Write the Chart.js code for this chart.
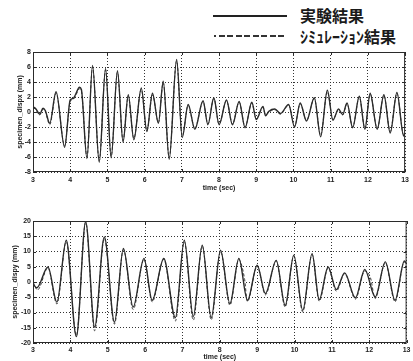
<!DOCTYPE html>
<html>
<head>
<meta charset="utf-8">
<script src="https://cdn.jsdelivr.net/npm/chart.js@4/dist/chart.umd.min.js"></script>
<style>
  body { margin: 0; background: #fff; width: 413px; height: 361px; overflow: hidden; position: relative; }
  canvas { position: absolute; left: 0; }
  .lg-line { position: absolute; height: 2px; }
  .lg-text { position: absolute; font-family: "Noto Sans CJK JP", sans-serif; font-weight: bold; font-size: 16px; line-height: 16px; color: #1a1a1a; white-space: nowrap; }
</style>
</head>
<body>
<div class="lg-line" style="left:213px;top:15px;width:74px;background:#222;"></div>
<div class="lg-text" style="left:300px;top:7px;">実験結果</div>
<div class="lg-line" style="left:214px;top:35px;width:2px;background:#333;"></div>
<div class="lg-line" style="left:219px;top:35px;width:68px;background:repeating-linear-gradient(to right,#333 0 6px,transparent 6px 8.5px);"></div>
<div class="lg-text" style="left:300px;top:28px;">ｼﾐｭﾚｰｼｮﾝ結果</div>

<canvas id="top" width="413" height="150" style="top:44px"></canvas>
<canvas id="bottom" width="413" height="149" style="top:212px"></canvas>

<script>
/* ---- data ---- */
var topTime = [3.00,3.08,3.18,3.27,3.33,3.45,3.62,3.85,4.00,4.08,4.13,4.25,4.30,4.45,4.60,4.78,4.95,5.10,5.27,5.42,
  5.56,5.71,5.91,6.06,6.21,6.37,6.50,6.66,6.86,7.01,7.17,7.35,7.57,7.70,7.86,8.00,8.20,8.36,8.54,8.70,
  8.88,9.00,9.18,9.25,9.34,9.50,9.65,9.87,10.03,10.18,10.35,10.56,10.73,10.91,11.06,11.21,11.32,11.44,11.59,11.77,
  11.92,12.06,12.25,12.43,12.60,12.78,12.96,13.00];
var dispxExp = [0.7,0.4,-0.3,0.5,0.2,-1.5,2.7,-4.7,1.6,1.8,2.2,3.3,3.0,-6.2,6.2,-6.7,5.8,-6.1,5.5,-4.0,
  2.3,-3.7,3.2,-2.6,2.5,-1.5,4.1,-6.3,7.0,-3.4,1.0,-2.3,1.5,-1.7,1.9,-1.7,1.6,-1.7,1.4,-2.1,
  1.3,-1.0,0.75,-0.5,0.1,0.4,-0.2,1.0,-2.0,1.2,-1.2,1.9,-3.3,2.9,-1.1,0.4,-0.35,1.2,-2.1,2.1,
  -2.3,2.5,-2.3,2.3,-2.8,2.6,-3.2,-2.8];
var dispxSim = [0.6,0.3,-0.4,0.4,0.1,-1.7,2.5,-4.5,1.4,1.7,2.0,3.1,2.8,-6.0,6.0,-6.5,5.6,-5.9,5.3,-3.8,
  2.1,-3.5,3.0,-2.5,2.3,-1.4,3.9,-6.1,6.8,-3.2,0.9,-2.2,1.4,-1.6,1.8,-1.6,1.5,-1.6,1.3,-2.0,
  1.2,-0.9,0.6,-0.4,0.0,0.3,-0.3,0.9,-1.9,1.1,-1.1,1.8,-3.1,2.7,-1.0,0.3,-0.4,1.1,-2.0,2.0,
  -2.2,2.4,-2.2,2.2,-2.6,2.5,-3.0,-2.6];

var botTimeExp = [3.00,3.10,3.40,3.64,3.89,4.16,4.41,4.65,4.91,5.18,5.42,5.68,5.97,6.19,6.50,6.81,7.05,7.29,7.53,7.77,
  8.02,8.27,8.51,8.74,9.00,9.22,9.51,9.75,9.98,10.22,10.47,10.66,10.90,11.12,11.34,11.63,11.88,12.16,12.43,12.69,
  12.94,13.00];
var dispyExp = [-0.5,-1.9,4.9,-6.6,13.7,-17.9,19.8,-14.8,14.8,-13.2,11.0,-8.2,7.7,-6.0,7.7,-11.7,13.7,-11.3,12.1,-11.7,
  10.4,-7.1,7.7,-6.0,5.5,-3.8,7.1,-7.7,8.8,-9.3,9.3,-5.8,4.9,-2.5,3.0,-5.2,4.1,-4.9,6.6,-6.0,
  6.9,6.0];
var botTimeSim = [3.00,3.12,3.40,3.64,3.89,4.16,4.41,4.65,4.91,5.18,5.42,5.68,5.97,6.19,6.50,6.81,7.05,7.29,7.53,7.77,
  8.02,8.27,8.51,8.66,8.74,9.00,9.22,9.51,9.75,9.98,10.22,10.47,10.66,10.90,11.12,11.34,11.63,11.88,12.03,12.16,
  12.43,12.69,12.94,13.00];
var dispySim = [0.0,-2.6,4.6,-7.2,13.2,-17.5,19.5,-16.0,14.3,-13.8,10.6,-9.0,7.4,-6.5,7.4,-12.8,13.2,-12.5,11.8,-12.4,
  10.0,-7.6,7.3,1.2,-6.4,5.2,-4.2,6.8,-8.2,8.5,-9.8,9.0,-6.3,4.6,-3.0,2.7,-5.6,3.6,1.5,-5.4,
  6.3,-6.5,6.6,5.8];

var xTicks = [3,4,5,6,7,8,9,10,11,12,13];
var topYTicks = [-8,-6,-4,-2,0,2,4,6,8];
var botYTicks = [-20,-15,-10,-5,0,5,10,15,20];

function pts(t, v){ return t.map(function(x, i){ return {x: x, y: v[i]}; }); }

var tickFont = { family: "'Liberation Sans', Arial, sans-serif", size: 7, weight: 'bold' };

/* box + inward ticks like matlab */
var framePlugin = {
  id: 'frame',
  afterDraw: function(chart){
    var a = chart.chartArea, c = chart.ctx;
    var sx = chart.scales.x, sy = chart.scales.y;
    c.save();
    c.strokeStyle = '#2a2a2a';
    c.lineWidth = 1;
    c.strokeRect(a.left + 0.5, a.top + 0.5, a.right - a.left - 1, a.bottom - a.top - 1);
    c.beginPath();
    sx.ticks.forEach(function(t){
      var px = Math.round(sx.getPixelForValue(t.value)) + 0.5;
      c.moveTo(px, a.top); c.lineTo(px, a.top + 3);
      c.moveTo(px, a.bottom); c.lineTo(px, a.bottom - 3);
    });
    sy.ticks.forEach(function(t){
      var py = Math.round(sy.getPixelForValue(t.value)) + 0.5;
      c.moveTo(a.left, py); c.lineTo(a.left + 3, py);
      c.moveTo(a.right, py); c.lineTo(a.right - 3, py);
    });
    c.stroke();
    c.restore();
  }
};

function makeChart(id, cfg){
  return new Chart(document.getElementById(id), {
    type: 'line',
    data: {
      datasets: [{
        label: '実験結果',
        data: pts(cfg.t1, cfg.v1),
        borderColor: '#2b2b2b',
        borderWidth: 1.4,
        pointRadius: 0,
        cubicInterpolationMode: 'monotone'
      }, {
        label: 'シミュレーション結果',
        data: pts(cfg.t2, cfg.v2),
        borderColor: '#3a3a3a',
        borderWidth: 1,
        borderDash: [3, 2],
        pointRadius: 0,
        cubicInterpolationMode: 'monotone'
      }]
    },
    options: {
      responsive: false,
      animation: false,
      devicePixelRatio: 1,
      layout: { padding: { top: cfg.padTop, right: 2, left: 0, bottom: 0 } },
      plugins: { legend: { display: false }, tooltip: { enabled: false } },
      scales: {
        x: {
          type: 'linear', min: 3, max: 13,
          afterBuildTicks: function(s){ s.ticks = xTicks.map(function(v){ return {value: v}; }); },
          afterFit: function(s){ s.height = cfg.xH; },
          ticks: { font: tickFont, color: '#222', padding: cfg.xTickPad, maxRotation: 0 },
          grid: { color: '#333', lineWidth: 1, drawTicks: false },
          border: { display: false, dash: [1, 2] },
          title: { display: true, text: 'time (sec)', font: tickFont, color: '#222', padding: { top: 0, bottom: cfg.xTitlePad } }
        },
        y: {
          min: cfg.yMin, max: cfg.yMax,
          afterBuildTicks: function(s){ s.ticks = cfg.yTicks.map(function(v){ return {value: v}; }); },
          afterFit: function(s){ s.width = 33; },
          ticks: { font: tickFont, color: '#222', padding: 2 },
          grid: { color: '#333', lineWidth: 1, drawTicks: false },
          border: { display: false, dash: [1, 2] },
          title: { display: true, text: cfg.yTitle, font: tickFont, color: '#222', padding: { top: cfg.yTitlePad, bottom: 0 } }
        }
      }
    },
    plugins: [framePlugin]
  });
}

makeChart('top', {
  t1: topTime, v1: dispxExp, t2: topTime, v2: dispxSim,
  yMin: -8, yMax: 8, yTicks: topYTicks, yTitle: 'specimen_dispx (mm)',
  padTop: 8, xH: 22, xTickPad: 4, xTitlePad: 2, yTitlePad: 16
});

makeChart('bottom', {
  t1: botTimeExp, v1: dispyExp, t2: botTimeSim, v2: dispySim,
  yMin: -20, yMax: 20, yTicks: botYTicks, yTitle: 'specimen_dispy (mm)',
  padTop: 9, xH: 18, xTickPad: 2.5, xTitlePad: 0, yTitlePad: 11
});
</script>
</body>
</html>
